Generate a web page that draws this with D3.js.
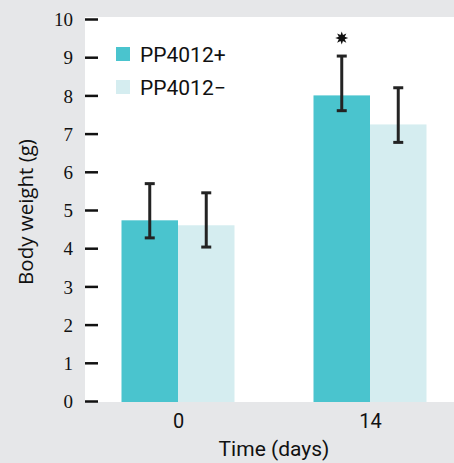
<!DOCTYPE html>
<html>
<head>
<meta charset="utf-8">
<script src="https://cdn.jsdelivr.net/npm/d3@7"></script>
<style>
  html, body { margin: 0; padding: 0; background: #e6e7e9; }
  svg { display: block; }
</style>
</head>
<body>
<svg id="chart" width="454" height="463"></svg>
<script>
// ---- data ----
const categories = ["0", "14"];
const seriesNames = ["PP4012+", "PP4012\u2212"];
const meanPlus  = [4.73, 8.00];
const meanMinus = [4.60, 7.24];
const errLowPlus   = [4.27, 7.60];
const errHighPlus  = [5.69, 9.03];
const errLowMinus  = [4.03, 6.77];
const errHighMinus = [5.45, 8.20];
const significant  = [false, true]; // star above PP4012+
const yTicks = [0, 1, 2, 3, 4, 5, 6, 7, 8, 9, 10];
const xTitle = "Time (days)";
const yTitle = "Body weight (g)";

const colors = ["#4ac4ce", "#d5edf0"];

const svg = d3.select("#chart");
const plot = { left: 85, top: 17, right: 454, bottom: 402 };

svg.append("rect")
  .attr("x", plot.left).attr("y", plot.top)
  .attr("width", plot.right - plot.left).attr("height", plot.bottom - plot.top)
  .attr("fill", "#ffffff");

const y = d3.scaleLinear().domain([0, 10]).range([401, 19]);
const x = d3.scalePoint().domain(categories).range([178, 370]);
const xs = d3.scaleBand().domain(seriesNames).range([-56.5, 56.5]).padding(0);

const rows = categories.map((c, i) => ({
  cat: c,
  vals: [
    { s: seriesNames[0], v: meanPlus[i], lo: errLowPlus[i], hi: errHighPlus[i], color: colors[0] },
    { s: seriesNames[1], v: meanMinus[i], lo: errLowMinus[i], hi: errHighMinus[i], color: colors[1] }
  ],
  sig: significant[i]
}));

const g = svg.append("g");
const groups = g.selectAll("g.grp").data(rows).join("g")
  .attr("class", "grp")
  .attr("transform", d => `translate(${x(d.cat)},0)`);

groups.selectAll("rect").data(d => d.vals).join("rect")
  .attr("x", d => xs(d.s))
  .attr("width", xs.bandwidth())
  .attr("y", d => y(d.v))
  .attr("height", d => y(0) - y(d.v) + 1)
  .attr("fill", d => d.color);

const capW = 10;
const eb = groups.selectAll("g.eb").data(d => d.vals).join("g")
  .attr("class", "eb")
  .attr("transform", d => `translate(${xs(d.s) + xs.bandwidth() / 2},0)`)
  .attr("stroke", "#232323").attr("stroke-width", 3);
eb.append("line").attr("x1", 0).attr("x2", 0).attr("y1", d => y(d.lo)).attr("y2", d => y(d.hi));
eb.append("line").attr("x1", -capW / 2).attr("x2", capW / 2).attr("y1", d => y(d.hi)).attr("y2", d => y(d.hi));
eb.append("line").attr("x1", -capW / 2).attr("x2", capW / 2).attr("y1", d => y(d.lo)).attr("y2", d => y(d.lo));

function starPath(rOut, rIn, n) {
  const pts = [];
  for (let k = 0; k < 2 * n; k++) {
    const r = k % 2 === 0 ? rOut : rIn;
    const a = Math.PI * k / n - Math.PI / 2;
    pts.push([r * Math.cos(a), r * Math.sin(a)]);
  }
  return "M" + pts.map(p => p.join(",")).join("L") + "Z";
}
groups.filter(d => d.sig).append("path")
  .attr("d", starPath(6.5, 3.2, 8))
  .attr("fill", "#111")
  .attr("transform", d => `translate(${xs(seriesNames[0]) + xs.bandwidth() / 2},${y(d.vals[0].hi) - 18})`);

// y axis
const yAxis = d3.axisLeft(y).tickValues(yTicks).tickSize(13).tickPadding(12).tickFormat(d3.format("d"));
const ya = svg.append("g").attr("transform", `translate(98,0)`).call(yAxis)
  .attr("font-family", "'Liberation Serif', 'Times New Roman', serif").attr("font-size", 19);
ya.select(".domain").remove();
ya.selectAll(".tick line").attr("stroke", "#111").attr("stroke-width", 2.5);
ya.selectAll(".tick text").attr("fill", "#111").attr("dy", "0.35em");

// x axis
const xAxis = d3.axisBottom(x).tickSize(0).tickPadding(12);
const xa = svg.append("g").attr("transform", `translate(0,${plot.bottom})`).call(xAxis)
  .attr("font-family", "Roboto, sans-serif").attr("font-size", 20);
xa.select(".domain").remove();
xa.selectAll(".tick text").attr("fill", "#111");

// titles
svg.append("text").attr("x", 274).attr("y", 456)
  .attr("text-anchor", "middle")
  .attr("font-family", "Roboto, sans-serif").attr("font-size", 21).attr("fill", "#111")
  .text(xTitle);
svg.append("text")
  .attr("transform", "translate(33,212) rotate(-90)")
  .attr("text-anchor", "middle")
  .attr("font-family", "'Open Sans', sans-serif").attr("font-size", 20.5).attr("fill", "#111")
  .text(yTitle);

// legend
const lg = svg.append("g").attr("transform", "translate(116,47)");
const li = lg.selectAll("g").data(seriesNames).join("g")
  .attr("transform", (d, i) => `translate(0,${i * 33})`);
li.append("rect").attr("width", 14).attr("height", 14).attr("fill", (d, i) => colors[i]);
li.append("text").attr("x", 24).attr("y", 15)
  .attr("font-family", "Roboto, sans-serif").attr("font-size", 21).attr("fill", "#111")
  .text(d => d);
</script>
</body>
</html>
